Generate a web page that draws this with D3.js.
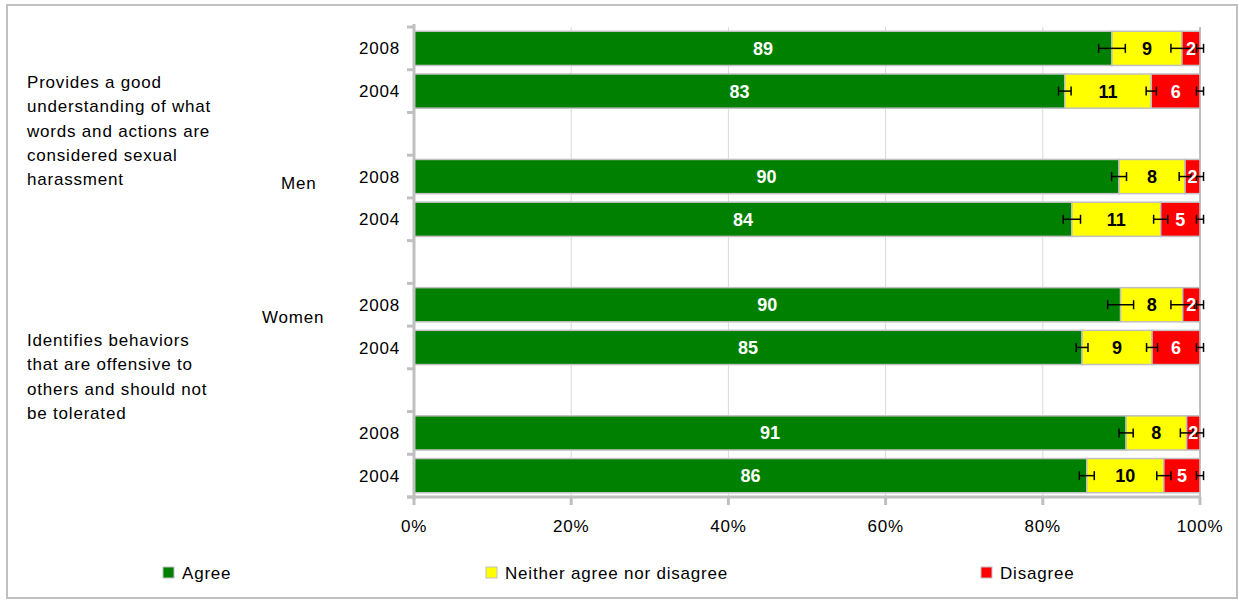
<!DOCTYPE html>
<html><head><meta charset="utf-8">
<script src="https://cdn.jsdelivr.net/npm/d3@7"></script>
<style>body{margin:0;background:#fff;}svg{display:block;font-family:"Liberation Sans",Arial,sans-serif;}</style>
</head><body>
<svg id="c" width="1239" height="600"></svg>
<script>
const years = ["2008","2004","2008","2004","2008","2004","2008","2004"];
const slots = [0,1,3,4,6,7,9,10]; // slot index of each bar (empty slots between groups)
const agree = [88.8, 82.8, 89.7, 83.7, 89.9, 85.0, 90.6, 85.6];
const neither = [8.9, 11.0, 8.4, 11.3, 7.9, 8.9, 7.7, 9.8];
const disagree = [2.3, 6.2, 1.9, 5.0, 2.2, 6.1, 1.7, 4.6];
const agreeErr = [1.7, 0.8, 0.95, 1.1, 1.65, 0.75, 0.9, 0.95];
const neitherErr = [1.4, 0.65, 0.75, 0.9, 1.5, 0.7, 0.8, 0.9];
const totalErr = [0.45, 0.45, 0.45, 0.45, 0.45, 0.45, 0.45, 0.45];
const xTicks = [0, 20, 40, 60, 80, 100];
const seriesNames = ["Agree", "Neither agree nor disagree", "Disagree"];
const seriesColors = ["#008000", "#ffff00", "#ff0000"];
const labelColors = ["#ffffff", "#000000", "#ffffff"];
const groupLabel1 = ["Provides a good", "understanding of what", "words and actions are", "considered sexual", "harassment"];
const groupLabel2 = ["Identifies behaviors", "that are offensive to", "others and should not", "be tolerated"];
const sexLabels = ["Men", "Women"];

const svg = d3.select("#c");
const grid = "#c0c0c0";
const FS = 17, LS = "0.8px";

// outer frame
svg.append("rect").attr("x",7).attr("y",5).attr("width",1230).attr("height",593)
  .attr("fill","none").attr("stroke",grid).attr("stroke-width",2);

const x = d3.scaleLinear().domain([0,100]).range([414,1200]);
const slotIdx = d3.range(11);
const y = d3.scaleBand().domain(slotIdx).range([27,497]).paddingInner(0.2).paddingOuter(0.1);
const step = y.step();
const top0 = 27;

// vertical gridlines
svg.append("g").selectAll("line").data(xTicks.filter(t=>t>0)).join("line")
  .attr("x1",d=>x(d)).attr("x2",d=>x(d)).attr("y1",top0).attr("y2",497)
  .attr("stroke",d=>d===100?grid:"#d9d9d9").attr("stroke-width",d=>d===100?2:1);

// stacked bars
const stackData = years.map((yr,i)=>({i, slot:slots[i], vals:[agree[i],neither[i],disagree[i]]}));
const segs = [];
stackData.forEach(d=>{
  let c=0;
  d.vals.forEach((v,k)=>{segs.push({i:d.i, slot:d.slot, k, x0:c, x1:c+v, v}); c+=v;});
});
svg.append("g").selectAll("rect").data(segs).join("rect")
  .attr("x",d=>x(d.x0)).attr("width",d=>x(d.x1)-x(d.x0))
  .attr("y",d=>y(d.slot)).attr("height",y.bandwidth())
  .attr("fill",d=>seriesColors[d.k]).attr("stroke",grid).attr("stroke-width",1.5);

// error bars
const errs = [];
years.forEach((yr,i)=>{
  errs.push({slot:slots[i], c:agree[i], e:agreeErr[i]});
  errs.push({slot:slots[i], c:agree[i]+neither[i], e:neitherErr[i]});
  errs.push({slot:slots[i], c:100, e:totalErr[i]});
});
const eg = svg.append("g").attr("stroke","#000").attr("stroke-width",1.5);
errs.forEach(d=>{
  const cy = y(d.slot)+y.bandwidth()/2;
  const xa = x(d.c-d.e), xb = x(d.c+d.e);
  eg.append("line").attr("x1",xa).attr("x2",xb).attr("y1",cy).attr("y2",cy);
  eg.append("line").attr("x1",xa).attr("x2",xa).attr("y1",cy-4.5).attr("y2",cy+4.5);
  eg.append("line").attr("x1",xb).attr("x2",xb).attr("y1",cy-4.5).attr("y2",cy+4.5);
});

// data labels
svg.append("g").selectAll("text").data(segs).join("text")
  .attr("x",d=>(x(d.x0)+x(d.x1))/2).attr("y",d=>y(d.slot)+y.bandwidth()/2)
  .attr("dy","0.36em").attr("text-anchor","middle")
  .attr("font-size",18).attr("font-weight","bold")
  .attr("fill",d=>labelColors[d.k]).text(d=>Math.round(d.v));

// y axis line + ticks
svg.append("line").attr("x1",414).attr("x2",414).attr("y1",top0-3).attr("y2",500)
  .attr("stroke",grid).attr("stroke-width",3);
svg.append("g").selectAll("line").data(d3.range(12)).join("line")
  .attr("x1",407).attr("x2",414).attr("y1",d=>top0+d*step).attr("y2",d=>top0+d*step)
  .attr("stroke",grid).attr("stroke-width",3);

// x axis
svg.append("line").attr("x1",407).attr("x2",1200).attr("y1",497).attr("y2",497)
  .attr("stroke",grid).attr("stroke-width",3);
svg.append("g").selectAll("line").data(xTicks).join("line")
  .attr("x1",d=>x(d)).attr("x2",d=>x(d)).attr("y1",497).attr("y2",505)
  .attr("stroke",grid).attr("stroke-width",3);
svg.append("g").selectAll("text").data(xTicks).join("text")
  .attr("x",d=>x(d)).attr("y",526).attr("dy","0.36em").attr("text-anchor","middle")
  .attr("font-size",FS).attr("letter-spacing",LS).attr("fill","#000").text(d=>d+"%");

// year labels
svg.append("g").selectAll("text").data(years).join("text")
  .attr("x",400).attr("y",(d,i)=>y(slots[i])+y.bandwidth()/2).attr("dy","0.36em")
  .attr("text-anchor","end").attr("font-size",FS).attr("letter-spacing",LS).attr("fill","#000").text(d=>d);

// group labels
const gl = svg.append("g").attr("font-size",FS).attr("letter-spacing",LS).attr("fill","#000");
gl.selectAll("text.g1").data(groupLabel1).join("text").attr("class","g1")
  .attr("x",27).attr("y",(d,i)=>82+i*24.3).attr("dy","0.36em").text(d=>d);
gl.selectAll("text.g2").data(groupLabel2).join("text").attr("class","g2")
  .attr("x",27).attr("y",(d,i)=>340+i*24.3).attr("dy","0.36em").text(d=>d);
gl.append("text").attr("x",281).attr("y",183).attr("dy","0.36em").text(sexLabels[0]);
gl.append("text").attr("x",262).attr("y",317).attr("dy","0.36em").text(sexLabels[1]);

// legend
const legX = [163, 486, 981];
const lg = svg.append("g").selectAll("g").data(seriesNames).join("g")
  .attr("transform",(d,i)=>`translate(${legX[i]},567)`);
lg.append("rect").attr("width",11).attr("height",11)
  .attr("fill",(d,i)=>seriesColors[i]).attr("stroke",grid).attr("stroke-width",1);
lg.append("text").attr("x",19).attr("y",6).attr("dy","0.36em")
  .attr("font-size",FS).attr("letter-spacing",LS).attr("fill","#000").text(d=>d);
</script>
</body></html>
